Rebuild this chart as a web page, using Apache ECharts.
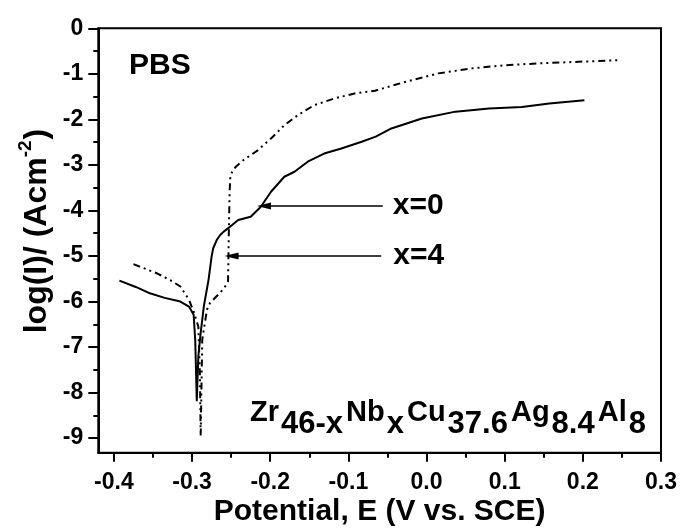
<!DOCTYPE html>
<html>
<head>
<meta charset="utf-8">
<title>Polarization curves in PBS</title>
<script src="https://cdn.jsdelivr.net/npm/echarts@6/dist/echarts.min.js"></script>
<style>
  html, body { margin: 0; padding: 0; background: #fff; }
  #chart { width: 680px; height: 531px; }
</style>
</head>
<body>
<div id="chart"></div>
<script>
// Potentiodynamic polarization curves, Zr46-xNbxCu37.6Ag8.4Al8 glasses in PBS
const potentialX0 = [
  -0.393, -0.372, -0.354, -0.335, -0.315, -0.304, -0.298, -0.296, -0.295, -0.294,
  -0.292, -0.289, -0.285, -0.279, -0.275, -0.273, -0.2685, -0.264, -0.260, -0.2515,
  -0.241, -0.225, -0.212, -0.199, -0.182, -0.169, -0.152, -0.131, -0.109, -0.083,
  -0.065, -0.045, -0.006, 0.037, 0.080, 0.122, 0.157, 0.202
];
const logCurrentX0 = [
  -5.54, -5.68, -5.82, -5.92, -6.00, -6.11, -6.29, -6.84, -7.50, -8.19,
  -7.20, -6.69, -6.11, -5.53, -5.01, -4.83, -4.65, -4.54, -4.47, -4.36,
  -4.21, -4.14, -3.92, -3.59, -3.26, -3.15, -2.93, -2.75, -2.64, -2.49,
  -2.38, -2.20, -1.98, -1.83, -1.76, -1.73, -1.65, -1.58
];
const potentialX4 = [
  -0.375, -0.345, -0.328, -0.315, -0.304, -0.298, -0.292, -0.290, -0.289, -0.287,
  -0.281, -0.277, -0.265, -0.259, -0.254, -0.253, -0.252, -0.251, -0.248, -0.244,
  -0.234, -0.216, -0.199, -0.182, -0.165, -0.144, -0.118, -0.092, -0.066, -0.028,
  0.015, 0.058, 0.101, 0.144, 0.187, 0.247
];
const logCurrentX4 = [
  -5.18, -5.38, -5.53, -5.67, -5.96, -6.22, -6.55, -7.57, -8.96, -6.84,
  -6.18, -6.03, -5.82, -5.71, -5.56, -4.50, -3.60, -3.25, -3.12, -3.04,
  -2.89, -2.68, -2.42, -2.13, -1.91, -1.69, -1.54, -1.43, -1.37, -1.18,
  -0.99, -0.88, -0.81, -0.77, -0.74, -0.70
];
const seriesNames = ['x=0', 'x=4'];
const xMajorTicks = [-0.4, -0.3, -0.2, -0.1, 0.0, 0.1, 0.2, 0.3];
const xMinorTicks = [-0.35, -0.25, -0.15, -0.05, 0.05, 0.15, 0.25];
const yMajorTicks = [0, -1, -2, -3, -4, -5, -6, -7, -8, -9];
const yMinorTicks = [-0.5, -1.5, -2.5, -3.5, -4.5, -5.5, -6.5, -7.5, -8.5];

const FONT = "'Liberation Sans', Arial, Helvetica, sans-serif";
const INK = '#000';

function pairs(xs, ys) { return xs.map((x, i) => [x, ys[i]]); }

const xRange = { min: -0.42, max: 0.3 };
const yRange = { min: -9.32, max: 0 };

const chart = echarts.init(document.getElementById('chart'), null, { renderer: 'canvas' });

chart.setOption({
  animation: false,
  backgroundColor: '#fff',
  grid: {
    left: 98.3, right: 19, top: 28.3, bottom: 78.3,
    show: true, borderColor: INK, borderWidth: 2, backgroundColor: 'transparent',
    containLabel: false, outerBoundsMode: 'none'
  },
  xAxis: [
    {
      type: 'value', min: xRange.min, max: xRange.max, position: 'bottom',
      axisLine: { show: true, onZero: false, lineStyle: { color: INK, width: 2 } },
      axisTick: { show: true, inside: false, length: 9, customValues: xMajorTicks, lineStyle: { color: INK, width: 2 } },
      axisLabel: {
        customValues: xMajorTicks, formatter: v => v.toFixed(1), margin: 18,
        fontFamily: FONT, fontWeight: 'bold', fontSize: 23, color: INK
      },
      splitLine: { show: false },
      name: 'Potential, E (V vs. SCE)', nameLocation: 'middle', nameGap: 44, nameMoveOverlap: false,
      nameTextStyle: { fontFamily: FONT, fontWeight: 'bold', fontSize: 30, color: INK }
    },
    {
      type: 'value', min: xRange.min, max: xRange.max, position: 'bottom',
      axisLine: { show: false, onZero: false },
      axisTick: { show: true, inside: false, length: 5, customValues: xMinorTicks, lineStyle: { color: INK, width: 2 } },
      axisLabel: { show: false },
      splitLine: { show: false }
    }
  ],
  yAxis: [
    {
      type: 'value', min: yRange.min, max: yRange.max, position: 'left',
      axisLine: { show: true, onZero: false, lineStyle: { color: INK, width: 2 } },
      axisTick: { show: true, inside: false, length: 10, customValues: yMajorTicks, lineStyle: { color: INK, width: 2 } },
      axisLabel: {
        customValues: yMajorTicks, formatter: v => String(v), margin: 15,
        fontFamily: FONT, fontWeight: 'bold', fontSize: 23, color: INK
      },
      splitLine: { show: false },
      name: '{m|log(I)/ (Acm}{sup|-2}{m|)}', nameLocation: 'middle', nameGap: 41, nameMoveOverlap: false,
      nameTextStyle: {
        fontFamily: FONT, fontWeight: 'bold', fontSize: 32, color: INK,
        padding: [0, 0, 0, 19],
        rich: {
          m: { fontFamily: FONT, fontWeight: 'bold', fontSize: 32, color: INK, verticalAlign: 'middle' },
          sup: { fontFamily: FONT, fontWeight: 'bold', fontSize: 19, color: INK, verticalAlign: 'middle', padding: [0, 1, 22, 0] }
        }
      }
    },
    {
      type: 'value', min: yRange.min, max: yRange.max, position: 'left',
      axisLine: { show: false, onZero: false },
      axisTick: { show: true, inside: false, length: 5, customValues: yMinorTicks, lineStyle: { color: INK, width: 2 } },
      axisLabel: { show: false },
      splitLine: { show: false }
    }
  ],
  series: [
    {
      name: seriesNames[0], type: 'line', xAxisIndex: 0, yAxisIndex: 0,
      data: pairs(potentialX0, logCurrentX0),
      symbol: 'none', showSymbol: false, smooth: false,
      lineStyle: { color: INK, width: 2 },
      markLine: {
        silent: true, symbol: ['triangle', 'none'], symbolSize: [7, 14],
        lineStyle: { color: INK, width: 1.5, type: 'solid' },
        label: {
          show: true, position: 'end', distance: 10, formatter: seriesNames[0],
          fontFamily: FONT, fontWeight: 'bold', fontSize: 30, color: INK
        },
        data: [[{ coord: [-0.208, -3.90] }, { coord: [-0.056, -3.90] }]]
      }
    },
    {
      name: seriesNames[1], type: 'line', xAxisIndex: 0, yAxisIndex: 0,
      data: pairs(potentialX4, logCurrentX4),
      symbol: 'none', showSymbol: false, smooth: false,
      lineStyle: { color: INK, width: 2, type: [7, 4, 2, 4, 2, 4] },
      markLine: {
        silent: true, symbol: ['triangle', 'none'], symbolSize: [7, 14],
        lineStyle: { color: INK, width: 1.5, type: 'solid' },
        label: {
          show: true, position: 'end', distance: 12, formatter: seriesNames[1],
          fontFamily: FONT, fontWeight: 'bold', fontSize: 30, color: INK
        },
        data: [[{ coord: [-0.2495, -5.0] }, { coord: [-0.058, -5.0] }]]
      }
    }
  ],
  graphic: [
    {
      type: 'text', left: 129, top: 51,
      style: { text: 'PBS', fontFamily: FONT, fontWeight: 'bold', fontSize: 30, fill: INK }
    },
    {
      type: 'text', x: 250, y: 412.5,
      style: {
        text: '{m|Zr}{s|46-x}{m|Nb}{s|x}{m|Cu}{s|37.6}{m|Ag}{s|8.4}{m|Al}{s|8}',
        align: 'left', verticalAlign: 'middle', fill: INK,
        rich: {
          m: { fontFamily: FONT, fontWeight: 'bold', fontSize: 29, fill: INK, verticalAlign: 'middle' },
          s: { fontFamily: FONT, fontWeight: 'bold', fontSize: 31, fill: INK, verticalAlign: 'middle', padding: [24, 3, 0, 2] }
        }
      }
    }
  ]
});
</script>
</body>
</html>
